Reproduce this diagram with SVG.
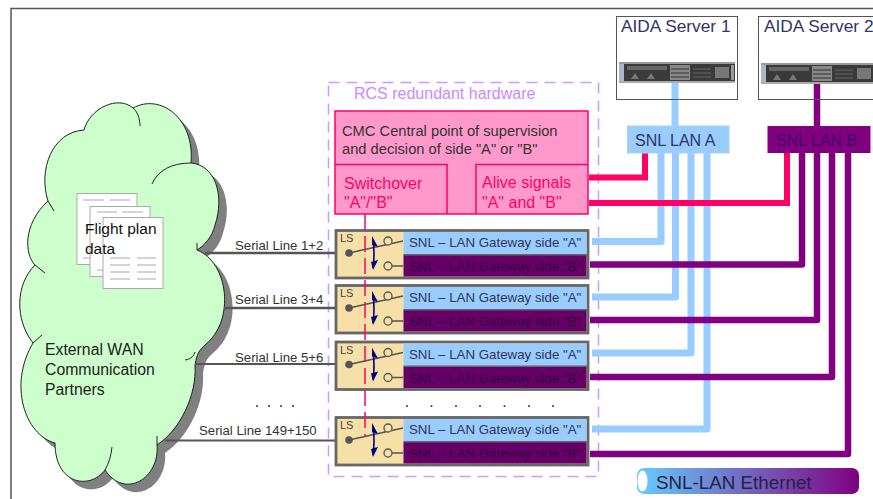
<svg xmlns="http://www.w3.org/2000/svg" width="873" height="499" viewBox="0 0 873 499">
<style>
text{font-family:"Liberation Sans",Arial,sans-serif}
.blue{fill:none;stroke:#99ccff;stroke-width:7;stroke-linejoin:round}
.pur{fill:none;stroke:#800080;stroke-width:6.500;stroke-linejoin:round}
.pink{fill:none;stroke:#ff0066;stroke-width:6}
.ser{fill:none;stroke:#555;stroke-width:2.500}
.ser2{fill:none;stroke:#555;stroke-width:1.800}
.sl{font-size:13.200px;fill:#333}
.gw{font-size:13.300px;fill:#333355}
.gwb{font-size:13.300px;fill:#330044}
.ls{font-size:11px;fill:#444}
.cm{font-size:14.700px;fill:#333}
.pk{font-size:16px;fill:#ff0066}
.srv{font-size:17.300px;fill:#333366}
.wl{font-size:15.800px;fill:#222}
.doc{fill:#fff;stroke:#aaa;stroke-width:1}
.dl{stroke:#aaa;stroke-width:1}
.dot{fill:#333377}
.tail{fill:none;stroke:#222;stroke-width:1}
.pb{stroke:#ff0066;stroke-width:1.500}
</style>
<defs>
<linearGradient id="leg" x1="0" x2="1" y1="0" y2="0"><stop offset="0" stop-color="#66ccff"/><stop offset="1" stop-color="#800080"/></linearGradient>
<path id="cloud" d="M48 201C38 170 52 132 84 130C90 108 118 95 133 108C160 93 195 118 191 163C215 165 225 195 215 225C212 237 205 245 197 250C228 262 236 320 205 345C200 350 197 352 195 365C197 395 180 430 157 445C160 478 125 500 105 470C90 490 55 485 55 443C25 435 8 385 33 343C15 320 15 285 35 265C25 255 22 225 48 201Z"/>
<g id="srvimg">
<rect x="0" y="0" width="116" height="21" fill="#3a3a3a"/>
<rect x="0" y="0" width="116" height="2" fill="#999"/>
<rect x="0" y="19" width="116" height="2" fill="#aaa"/>
<rect x="0" y="2" width="5" height="17" fill="#a8b8c8"/>
<rect x="8" y="4" width="40" height="4" fill="#666"/>
<path d="M12 17l4-6 4 6zM28 17l4-6 4 6z" fill="#777"/>
<rect x="51" y="3" width="20" height="15" fill="#888"/>
<path d="M52 7H70M52 11H70M52 15H70" stroke="#333" stroke-width="1"/>
<path d="M74 7H92M74 11H92M74 15H92" stroke="#666" stroke-width="1"/>
<rect x="96" y="5" width="14" height="11" fill="#777"/>
<rect x="112" y="3" width="3" height="15" fill="#999"/>
</g>
<g id="sw">
<rect x="336" y="230.500" width="252" height="47.500" fill="#f6e0a8" stroke="#666" stroke-width="2.800"/>
<rect x="403.500" y="232" width="183" height="22.500" fill="#99ccff"/>
<rect x="403.500" y="255" width="183" height="21.500" fill="#660066"/>
<path d="M403.500 254.700H587" stroke="#666" stroke-width="1.500"/>
<path d="M349 253L403 241" stroke="#555" stroke-width="1.500" fill="none"/>
<circle cx="349" cy="253" r="3.800" fill="#555"/>
<circle cx="388" cy="241" r="4" fill="#f6e0a8" stroke="#555" stroke-width="1.300"/>
<circle cx="388" cy="266" r="4" fill="#f6e0a8" stroke="#555" stroke-width="1.300"/>
<path d="M392 266H403" stroke="#555" stroke-width="1.500"/>
<path d="M373 240Q375 254 373 268" stroke="#000080" stroke-width="1.600" fill="none"/>
<path d="M372 236L378 247L372 245ZM373 270L378 260L371 262Z" fill="#000080"/>
<text class="ls" x="340" y="242">LS</text>
<text class="gw" x="409" y="247">SNL – LAN Gateway side "A"</text>
<text class="gwb" x="409" y="271">SNL – LAN Gateway side "B"</text>
</g>
</defs>
<rect id="frame" x="11" y="8.500" width="870" height="500" fill="#fff" stroke="#555" stroke-width="1.500"/>
<g id="cloud-node">
<use href="#cloud" x="8" y="8" fill="#808080"/>
<use href="#cloud" fill="#ccffcc" stroke="#222" stroke-width="1"/>
<path class="tail" d="M133 108C138 112 140 120 140 126M191 163C172 163 158 170 152 184M48 201L54 211M197 250L197 243M33 343L42 335M35 265L45 273M157 445L157 436M105 470C109 463 111 456 112 447M185 360C192 359 194 355 195 352"/>
<text class="wl" x="45" y="355">External WAN</text>
<text class="wl" x="45" y="375">Communication</text>
<text class="wl" x="45" y="395">Partners</text>
</g>
<g id="flight-plan">
<rect class="doc" x="77" y="193.500" width="60" height="71"/>
<path class="dl" d="M83 200H104M110 200H130M83 258H97"/>
<rect class="doc" x="90" y="206.500" width="60" height="70"/>
<path class="dl" d="M97 212H117M122 212H143M97 270H103"/>
<rect class="doc" x="103" y="217.500" width="60" height="71"/>
<path class="dl" d="M110 258H130M137 258H156M110 265H130M137 265H156M110 272H130M137 272H156M110 279H130M137 279H156"/>
<text x="85" y="234" font-size="15.500" fill="#111">Flight plan</text>
<text x="85" y="254" font-size="15.500" fill="#111">data</text>
</g>
<g id="rcs">
<rect x="328.500" y="82.500" width="270" height="394" fill="none" stroke="#cc99ff" stroke-width="1.500" stroke-dasharray="11 7"/>
<text x="354" y="99" font-size="16" fill="#cc88ff">RCS redundant hardware</text>
</g>
<g id="connectors">
<path class="blue" d="M675 83V126"/>
<path class="pur" d="M817 84V126"/>
<path class="blue" d="M592 241.500H661V153"/>
<path class="blue" d="M592 297H675.500V153"/>
<path class="blue" d="M592 353H691V153"/>
<path class="blue" d="M592 429H707V153"/>
<path class="pur" d="M590 264.500H802V153"/>
<path class="pur" d="M590 320H817V153"/>
<path class="pur" d="M590 377H832V153"/>
<path class="pur" d="M590 454H848V153"/>
<path class="pink" d="M589 177.500H645V153"/>
<path class="pink" d="M589 203H787V153"/>
<path class="ser" d="M205 253H336M224 308H336"/>
<path class="ser2" d="M195 364H336M165 440.500H336"/>
</g>
<g id="serial-labels">
<text class="sl" x="235" y="250">Serial Line 1+2</text>
<text class="sl" x="235" y="304">Serial Line 3+4</text>
<text class="sl" x="235" y="362">Serial Line 5+6</text>
<text class="sl" x="199" y="435">Serial Line 149+150</text>
</g>
<g id="server-1">
<rect x="616.500" y="16.500" width="121" height="83" fill="none" stroke="#555"/>
<text class="srv" x="621" y="32">AIDA Server 1</text>
<use href="#srvimg" x="619" y="62"/>
</g>
<g id="server-2">
<rect x="758.500" y="16.500" width="130" height="83" fill="none" stroke="#555"/>
<text class="srv" x="764" y="32">AIDA Server 2</text>
<use href="#srvimg" x="761" y="63"/>
</g>
<g id="lan-a">
<rect x="627.500" y="126" width="101.500" height="27" fill="#99ccff" stroke="#aaccee"/>
<text x="635" y="146" font-size="16" fill="#333366">SNL LAN A</text>
</g>
<g id="lan-b">
<rect x="767.500" y="126" width="103" height="27" fill="#800080"/>
<text x="776" y="146" font-size="16" fill="#440066">SNL LAN B</text>
</g>
<g id="cmc">
<rect x="335" y="111" width="253" height="103" fill="#ff99cc" stroke="#ff0066" stroke-width="1.500"/>
<text class="cm" x="342" y="136">CMC Central point of supervision</text>
<text class="cm" x="342" y="154">and decision of side "A" or "B"</text>
</g>
<g id="switchover">
<path class="pb" d="M335 164.500H447V214" fill="none"/>
<text class="pk" x="344" y="189">Switchover</text>
<text class="pk" x="344" y="208">"A"/"B"</text>
</g>
<g id="alive">
<path class="pb" d="M476 214V164.500H588" fill="none"/>
<text class="pk" x="482" y="188">Alive signals</text>
<text class="pk" x="482" y="208">"A" and "B"</text>
</g>
<g id="gateway-1"><use href="#sw"/></g>
<g id="gateway-2"><use href="#sw" y="55"/></g>
<g id="gateway-3"><use href="#sw" y="111.500"/></g>
<g id="gateway-4"><use href="#sw" y="187"/></g>
<path id="switch-control" d="M365 214V437" fill="none" stroke="#ff0066" stroke-width="1.500" stroke-dasharray="16 6"/>
<g id="dots">
<circle class="dot" cx="407" cy="406" r="1"/><circle class="dot" cx="431.500" cy="406" r="1"/><circle class="dot" cx="456" cy="406" r="1"/><circle class="dot" cx="480" cy="406" r="1"/><circle class="dot" cx="504.500" cy="406" r="1"/><circle class="dot" cx="529" cy="406" r="1"/><circle class="dot" cx="553" cy="406" r="1"/>
<circle class="dot" cx="257" cy="406" r="1"/><circle class="dot" cx="269" cy="406" r="1"/><circle class="dot" cx="281" cy="406" r="1"/><circle class="dot" cx="293" cy="406" r="1"/>
</g>
<g id="legend">
<rect x="637" y="468" width="222" height="26" rx="7" fill="url(#leg)"/>
<ellipse cx="642.500" cy="481" rx="5" ry="10.500" fill="#fff"/>
<text x="656" y="488.500" font-size="18.800" fill="#222244">SNL-LAN Ethernet</text>
</g>
</svg>
